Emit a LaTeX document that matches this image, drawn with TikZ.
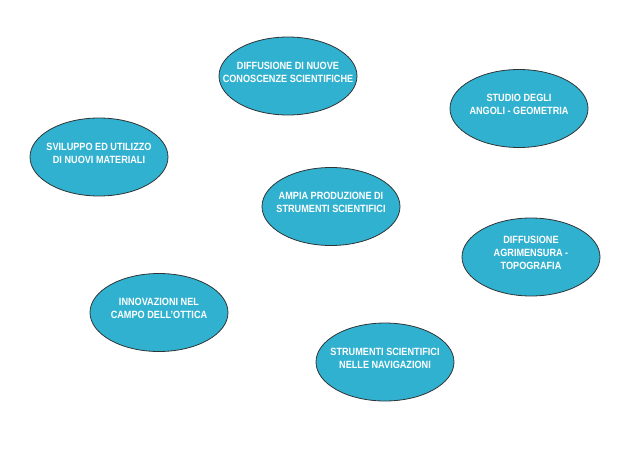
\documentclass[tikz,border=0pt]{standalone}
\usepackage{fontspec}
\setmainfont[FakeStretch=0.87]{Liberation Sans}
\usetikzlibrary{shapes.geometric}
\definecolor{BubbleFill}{HTML}{31B1D0}
\definecolor{BubbleInk}{HTML}{2E3436}
\tikzset{
  figure/.style={x=1pt,y=-1pt,font=\bfseries\fontsize{10.5}{13}\selectfont},
  bubble/.style={ellipse,draw=BubbleInk,line width=0.8pt,fill=BubbleFill,
    text=white,align=center,inner xsep=-40pt,inner ysep=-20pt,text depth=8pt,
    minimum width=138pt,minimum height=78pt},
}
\begin{document}
\begin{tikzpicture}[figure]
  \useasboundingbox (0,0) rectangle (640,453);

  \node[bubble] (diffusione) at (288,76) {DIFFUSIONE DI NUOVE\\CONOSCENZE SCIENTIFICHE};
  \node[bubble] (studio) at (519,108.5) {STUDIO DEGLI\\ANGOLI - GEOMETRIA};
  \node[bubble] (sviluppo) at (99,157) {SVILUPPO ED UTILIZZO\\DI NUOVI MATERIALI};
  \node[bubble] (ampia) at (331,206.5) {AMPIA PRODUZIONE DI\\STRUMENTI SCIENTIFICI};
  \node[bubble] (agrimensura) at (531,257) {DIFFUSIONE\\AGRIMENSURA -\\TOPOGRAFIA};
  \node[bubble] (ottica) at (159,312.5) {INNOVAZIONI NEL\\CAMPO DELL'OTTICA};
  \node[bubble] (navigazioni) at (385,362) {STRUMENTI SCIENTIFICI\\NELLE NAVIGAZIONI};
\end{tikzpicture}
\end{document}
